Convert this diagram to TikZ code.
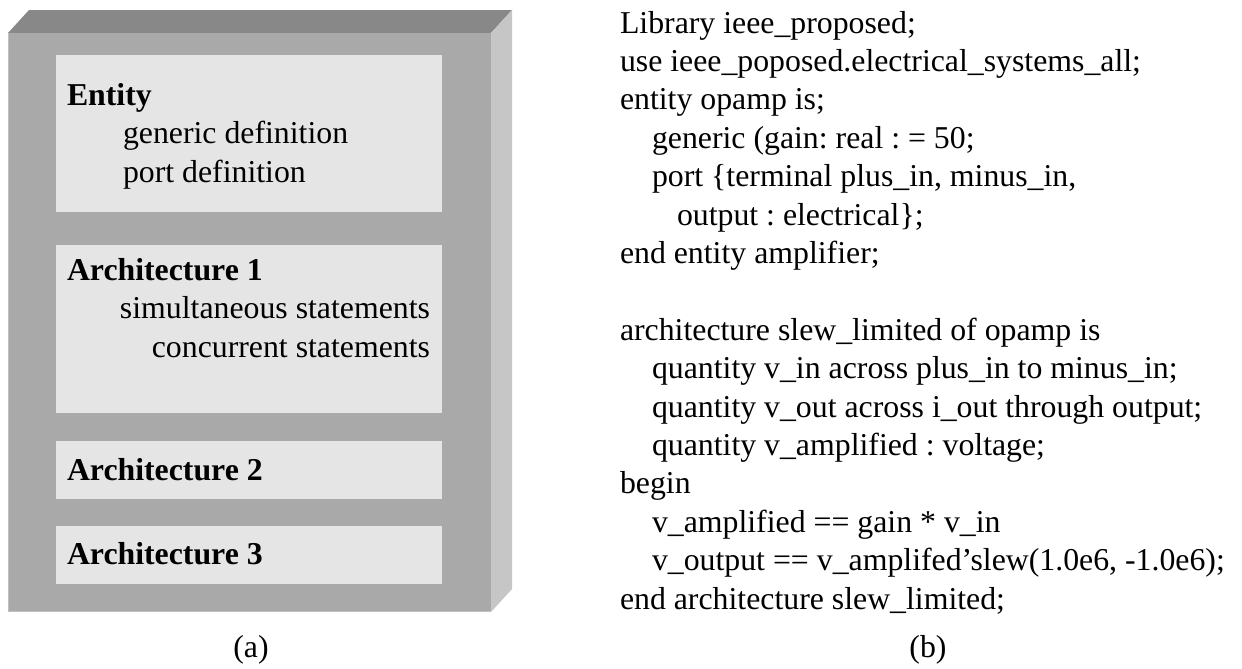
\documentclass[tikz,border=0pt]{standalone}
\usepackage{fontspec}
\setmainfont{Liberation Serif}
\frenchspacing
\definecolor{topgray}{HTML}{888888}
\definecolor{frontgray}{HTML}{A9A9A9}
\definecolor{sidegray}{HTML}{C6C6C6}
\definecolor{panelgray}{HTML}{E5E5E5}
\begin{document}
\begin{tikzpicture}[x=0.75pt,y=-0.75pt,
  txt/.style={inner sep=0pt,outer sep=0pt,font=\fontsize{23.85}{28}\selectfont,text=black},
  lt/.style={txt,anchor=base west},
  rt/.style={txt,anchor=base east},
  panel/.style={fill=panelgray,draw=none,inner sep=0pt,outer sep=0pt}]
\useasboundingbox (0,0) rectangle (1242,668);
% block: top, right side, front face
\fill[topgray] (8,33) -- (29,10) -- (512,10) -- (491,33) -- cycle;
\fill[sidegray] (491,33) -- (512,10) -- (512,589) -- (491,612) -- cycle;
\fill[frontgray] (8,33) rectangle (491,612);
\draw[line width=0.6pt,color=sidegray!80!frontgray] (8.3,33) -- (8.3,611.7) -- (491,611.7);
% inner panels
\node[panel,minimum width=386*0.75pt,minimum height=157*0.75pt] (ent) at (249,133.5) {};
\node[panel,minimum width=386*0.75pt,minimum height=168*0.75pt] (ar1) at (249,329) {};
\node[panel,minimum width=386*0.75pt,minimum height=58*0.75pt] (ar2) at (249,470) {};
\node[panel,minimum width=386*0.75pt,minimum height=58*0.75pt] (ar3) at (249,555) {};
% panel texts
\node[lt] (entT) at (67,105) {\textbf{Entity}};
\node[lt] (entG) at (123,143) {generic definition};
\node[lt] (entP) at (123,182) {port definition};
\node[lt] (a1T) at (67,280) {\textbf{Architecture 1}};
\node[rt] (a1S) at (430,318) {simultaneous statements};
\node[rt] (a1C) at (430,357) {concurrent statements};
\node[lt] (a2T) at (67,480) {\textbf{Architecture 2}};
\node[lt] (a3T) at (67,564) {\textbf{Architecture 3}};
\node[txt,anchor=base] (capa) at (251,657) {(a)};
% code listing
\node[lt] (c1) at (620,33) {Library ieee\_proposed;};
\node[lt] (c2) at (620,71.4) {use ieee\_poposed.electrical\_systems\_all;};
\node[lt] (c3) at (620,109.8) {entity opamp is;};
\node[lt] (c4) at (652,148.2) {generic (gain: real : = 50;};
\node[lt] (c5) at (652,186.6) {port \{terminal plus\_in, minus\_in,};
\node[lt] (c6) at (677,225) {output : electrical\};};
\node[lt] (c7) at (620,263.4) {end entity amplifier;};
\node[lt] (c8) at (620,340.2) {architecture slew\_limited of opamp is};
\node[lt] (c9) at (652,378.6) {quantity v\_in across plus\_in to minus\_in;};
\node[lt] (c10) at (652,417) {quantity v\_out across i\_out through output;};
\node[lt] (c11) at (652,455.4) {quantity v\_amplified : voltage;};
\node[lt] (c12) at (620,493.8) {begin};
\node[lt] (c13) at (652,532.2) {v\_amplified == gain * v\_in};
\node[lt] (c14) at (652,570.6) {v\_output == v\_amplifed’slew(1.0e6, -1.0e6);};
\node[lt] (c15) at (620,609) {end architecture slew\_limited;};
\node[txt,anchor=base] (capb) at (928,657) {(b)};
\end{tikzpicture}
\end{document}
